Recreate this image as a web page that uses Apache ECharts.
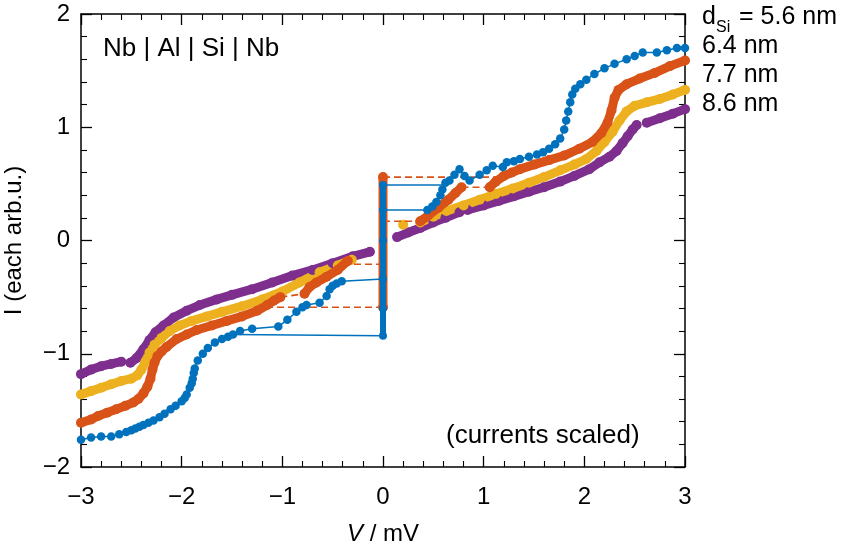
<!DOCTYPE html>
<html>
<head>
<meta charset="utf-8">
<script src="https://cdn.jsdelivr.net/npm/echarts@6/dist/echarts.min.js"></script>
<style>html,body{margin:0;padding:0;background:#fff}#c{width:852px;height:550px}</style>
</head>
<body>
<div id="c"></div>
<script>
// ---------- data (V in mV, I in arb. u.) ----------
const blueNeg = [[-3.0,-1.76],[-2.9,-1.74],[-2.8,-1.73],[-2.7,-1.73],[-2.62,-1.71],[-2.55,-1.69],[-2.5,-1.675],[-2.46,-1.66],[-2.42,-1.645],[-2.38,-1.63],[-2.33,-1.61],[-2.28,-1.59],[-2.22,-1.56],[-2.17,-1.53],[-2.11,-1.49],[-2.06,-1.46],[-2.0,-1.42],[-1.97,-1.39],[-1.95,-1.36],[-1.92,-1.30],[-1.9,-1.26],[-1.89,-1.22],[-1.88,-1.17],[-1.87,-1.13],[-1.84,-1.06],[-1.79,-1.0],[-1.74,-0.95],[-1.67,-0.90],[-1.6,-0.87],[-1.54,-0.85],[-1.49,-0.83],[-1.42,-0.80],[-1.30,-0.78],[-1.04,-0.76],[-0.95,-0.70],[-0.86,-0.63],[-0.80,-0.59],[-0.76,-0.57],[-0.63,-0.55],[-0.56,-0.49],[-0.53,-0.43],[-0.50,-0.40],[-0.46,-0.38],[-0.41,-0.36]];
const bluePos = [[0.44,0.27],[0.49,0.30],[0.53,0.34],[0.57,0.40],[0.59,0.45],[0.62,0.51],[0.66,0.53],[0.71,0.58],[0.76,0.63],[0.81,0.57],[0.86,0.53],[0.96,0.58],[1.03,0.62],[1.09,0.66],[1.19,0.65],[1.23,0.69],[1.30,0.70],[1.36,0.72],[1.45,0.74],[1.53,0.76],[1.59,0.78],[1.65,0.81],[1.71,0.85],[1.76,0.90],[1.80,0.98],[1.82,1.06],[1.84,1.14],[1.86,1.22],[1.88,1.29],[1.91,1.34],[1.96,1.38],[2.02,1.42],[2.10,1.47],[2.20,1.52],[2.30,1.56],[2.42,1.60],[2.50,1.63],[2.58,1.66],[2.72,1.66],[2.82,1.68],[2.92,1.70],[3.0,1.70]];
const blueZero = [[0,-0.84],[0,-0.6],[0,-0.34],[0,0],[0,0.27],[0,0.49]];
const blueJumps = [[[0,0.49],[0.60,0.49]],[[0,0.27],[0.44,0.27]],[[0,-0.34],[-0.41,-0.36]],[[0,-0.84],[-1.49,-0.83]]];

const orangeNegA = [[-3.0,-1.61],[-2.9,-1.58],[-2.83,-1.55],[-2.74,-1.52],[-2.65,-1.49],[-2.56,-1.46],[-2.48,-1.43],[-2.43,-1.40],[-2.38,-1.35],[-2.34,-1.29],[-2.31,-1.22],[-2.29,-1.14],[-2.27,-1.08],[-2.24,-1.02],[-2.2,-0.98],[-2.15,-0.94],[-2.05,-0.87],[-1.95,-0.83],[-1.85,-0.79],[-1.7,-0.75],[-1.55,-0.71],[-1.4,-0.67],[-1.25,-0.62],[-1.15,-0.57],[-1.08,-0.53],[-1.02,-0.50]];
const orangeNegB = [[-0.78,-0.47],[-0.73,-0.41],[-0.66,-0.37],[-0.56,-0.32],[-0.45,-0.26],[-0.35,-0.18]];
const orangePosA = [[0.37,0.17],[0.45,0.22],[0.55,0.29],[0.65,0.36],[0.72,0.42],[0.78,0.47]];
const orangePosB = [[1.06,0.47],[1.12,0.52],[1.2,0.57],[1.28,0.60],[1.36,0.63],[1.5,0.67],[1.65,0.71],[1.8,0.75],[1.95,0.81],[2.08,0.87],[2.17,0.95],[2.23,1.04],[2.27,1.15],[2.30,1.26],[2.34,1.33],[2.42,1.38],[2.55,1.43],[2.7,1.48],[2.85,1.54],[3.0,1.59]];
const orangeZero = [[0,-0.59],[0,0.56]];
const orangeJumps = [[[0,0.56],[1.21,0.56]],[[0,0.17],[0.37,0.17]],[[0.78,0.47],[1.06,0.47]],[[0,-0.21],[-0.35,-0.21]],[[0,-0.59],[-1.19,-0.59]],[[-1.02,-0.50],[-0.78,-0.47]]];

const yellowNeg = [[-3.0,-1.36],[-2.9,-1.33],[-2.8,-1.30],[-2.7,-1.27],[-2.6,-1.24],[-2.5,-1.22],[-2.44,-1.19],[-2.40,-1.14],[-2.36,-1.07],[-2.32,-0.99],[-2.27,-0.92],[-2.2,-0.86],[-2.12,-0.80],[-2.02,-0.75],[-1.9,-0.71],[-1.75,-0.67],[-1.6,-0.63],[-1.4,-0.58],[-1.2,-0.52],[-1.0,-0.45],[-0.83,-0.37],[-0.63,-0.28],[-0.45,-0.22],[-0.31,-0.17]];
const yellowDot = [[0.20,0.14]];
const yellowPos = [[0.37,0.16],[0.5,0.21],[0.63,0.26],[0.8,0.31],[0.96,0.36],[1.12,0.41],[1.29,0.46],[1.45,0.51],[1.6,0.56],[1.76,0.62],[1.9,0.67],[2.02,0.72],[2.12,0.79],[2.2,0.87],[2.28,0.96],[2.35,1.06],[2.42,1.14],[2.5,1.19],[2.62,1.22],[2.75,1.25],[2.88,1.29],[3.0,1.33]];

const purpleNegA = [[-3.0,-1.18],[-2.9,-1.14],[-2.8,-1.11],[-2.7,-1.09],[-2.6,-1.07]];
const purpleNegB = [[-2.51,-1.08],[-2.45,-1.04],[-2.38,-0.96],[-2.32,-0.88],[-2.26,-0.81],[-2.18,-0.75],[-2.08,-0.68],[-1.95,-0.62],[-1.82,-0.57],[-1.65,-0.52],[-1.5,-0.48],[-1.3,-0.43],[-1.1,-0.37],[-0.9,-0.31],[-0.7,-0.26],[-0.5,-0.20],[-0.3,-0.14],[-0.13,-0.10]];
const purplePosA = [[0.14,0.03],[0.25,0.07],[0.37,0.11],[0.5,0.16],[0.62,0.20],[0.76,0.25]];
const purplePosB = [[0.84,0.27],[1.0,0.31],[1.15,0.35],[1.3,0.39],[1.45,0.43],[1.6,0.47],[1.76,0.52],[1.9,0.57],[2.05,0.63],[2.15,0.69],[2.25,0.74],[2.32,0.79],[2.38,0.86],[2.43,0.92],[2.48,0.98],[2.52,1.02]];
const purplePosC = [[2.62,1.04],[2.75,1.08],[2.88,1.12],[3.0,1.16]];

const legendLabels = ['= 5.6 nm','6.4 nm','7.7 nm','8.6 nm'];
const xRange = [-3, 3];
const yRange = [-2, 2];

// ---------- styles ----------
const C = {blue:'#0072BD', orange:'#D95319', yellow:'#EDB120', purple:'#7E2F8E'};
const FONT = 'Liberation Sans, Arial, Helvetica, sans-serif';
const TXT = 26;
const LEG = 25;

function band(data, color) {
  return {type:'line', data, xAxisIndex:0, yAxisIndex:0, symbol:'circle', symbolSize:10, showSymbol:true,
    itemStyle:{color}, lineStyle:{color, width:9, cap:'round', join:'round'}, silent:true, animation:false, z:2};
}
function thin(data, color, width, type, sym, z) {
  return {type:'line', data, xAxisIndex:0, yAxisIndex:0, symbol: sym ? 'circle' : 'none', symbolSize:8.5, showSymbol:!!sym,
    itemStyle:{color}, lineStyle:{color, width, type: type || 'solid'}, silent:true, animation:false, z:z||3};
}

const series = [];
[purpleNegA, purpleNegB, purplePosA, purplePosB, purplePosC].forEach(d => series.push(band(d, C.purple)));
[yellowNeg, yellowDot, yellowPos].forEach(d => series.push(band(d, C.yellow)));
orangeJumps.forEach(d => series.push(thin(d, C.orange, 1.6, [7,4], false, 3)));
series.push(Object.assign(band(orangeZero, C.orange), {z:3}));
[orangeNegA, orangeNegB, orangePosA, orangePosB].forEach(d => series.push(Object.assign(band(d, C.orange), {z:3})));
blueJumps.forEach(d => series.push(thin(d, C.blue, 1.5, 'solid', false, 4)));
series.push({type:'line', data: blueZero, symbol:'circle', symbolSize:8, itemStyle:{color:C.blue},
  lineStyle:{color:C.blue, width:6}, silent:true, animation:false, z:5});
series.push(thin(blueNeg, C.blue, 1.5, 'solid', true, 5));
series.push(thin(bluePos, C.blue, 1.5, 'solid', true, 5));

const fmt = v => (v < 0 ? '\u2212' + (-v) : String(v));
const axLine = {show:true, onZero:false, lineStyle:{color:'#000', width:1.5}};
const tick = {show:true, inside:true, length:11, lineStyle:{color:'#000', width:1.3}};
const minor = {show:true, splitNumber:5, length:6, lineStyle:{color:'#000', width:1.1}};

const option = {
  backgroundColor:'#fff',
  animation:false,
  grid:{left:81, right:167, top:14, bottom:83, containLabel:false, outerBoundsMode:'none'},
  xAxis:[
    {type:'value', min:xRange[0], max:xRange[1], interval:1, position:'bottom', axisLine:axLine, axisTick:tick, minorTick:minor,
     splitLine:{show:false}, minorSplitLine:{show:false},
     axisLabel:{fontSize:24, color:'#000', fontFamily:FONT, margin:18, formatter:fmt},
     name:'{i|V} / mV', nameLocation:'middle', nameGap:55,
     nameTextStyle:{fontSize:24, color:'#000', fontFamily:FONT, rich:{i:{fontStyle:'italic', fontSize:24, color:'#000', fontFamily:FONT}}}},
    {type:'value', min:xRange[0], max:xRange[1], interval:1, position:'top', axisLine:axLine, axisTick:tick, minorTick:minor,
     splitLine:{show:false}, axisLabel:{show:false}}
  ],
  yAxis:[
    {type:'value', min:yRange[0], max:yRange[1], interval:1, position:'left', axisLine:axLine, axisTick:tick, minorTick:minor,
     splitLine:{show:false}, minorSplitLine:{show:false},
     axisLabel:{fontSize:24, color:'#000', fontFamily:FONT, margin:11, formatter:fmt},
     name:'I (each arb.u.)', nameLocation:'middle', nameGap:55,
     nameTextStyle:{fontSize:24, color:'#000', fontFamily:FONT}},
    {type:'value', min:yRange[0], max:yRange[1], interval:1, position:'right', axisLine:axLine, axisTick:tick, minorTick:minor,
     splitLine:{show:false}, axisLabel:{show:false}}
  ],
  graphic:[
    {type:'text', left:103, top:36, style:{text:'Nb | Al | Si | Nb', fontSize:TXT, fill:'#000', fontFamily:FONT}},
    {type:'text', left:446, top:423, style:{text:'(currents scaled)', fontSize:TXT, fill:'#000', fontFamily:FONT}},
    {type:'text', left:702, top:5, style:{text:'d', fontSize:LEG, fill:'#000', fontFamily:FONT}},
    {type:'text', left:716, top:20, style:{text:'Si', fontSize:16, fill:'#000', fontFamily:FONT}},
    {type:'text', left:739, top:5, style:{text:legendLabels[0], fontSize:LEG, fill:'#000', fontFamily:FONT}},
    {type:'text', left:702, top:34, style:{text:legendLabels[1], fontSize:LEG, fill:'#000', fontFamily:FONT}},
    {type:'text', left:702, top:63, style:{text:legendLabels[2], fontSize:LEG, fill:'#000', fontFamily:FONT}},
    {type:'text', left:702, top:92, style:{text:legendLabels[3], fontSize:LEG, fill:'#000', fontFamily:FONT}}
  ],
  series
};
const chart = echarts.init(document.getElementById('c'), null, {renderer:'canvas'});
chart.setOption(option);
</script>
</body>
</html>
